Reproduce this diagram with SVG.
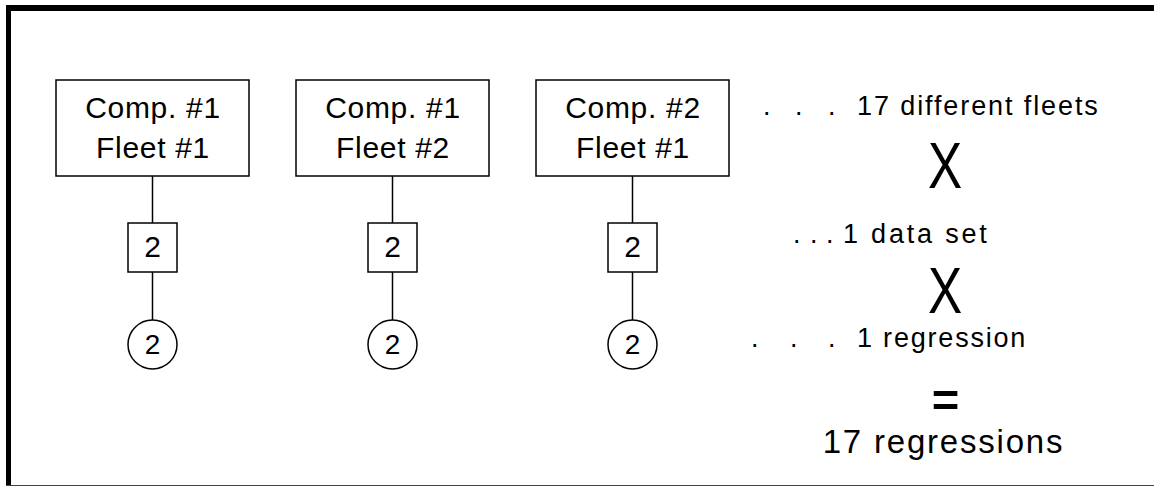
<svg xmlns="http://www.w3.org/2000/svg" width="1154" height="487" viewBox="0 0 1154 487">
<style>
.box{fill:#fff;stroke:#000;stroke-width:1.5}
.ln{stroke:#000;stroke-width:1.5;fill:none}
.t{font-family:"Liberation Sans",Arial,sans-serif;fill:#000;text-anchor:middle}
.lbl{font-size:30px;letter-spacing:0.7px}
.n{font-size:30px}
.c{font-size:28px}
.r{font-size:27px;letter-spacing:1.9px}
</style>
<rect x="0" y="0" width="1154" height="487" fill="#fff"/>
<g id="frame">
<rect x="6" y="5" width="1148" height="6" fill="#000"/>
<rect x="6" y="5" width="5" height="481" fill="#000"/>
<line x1="6" y1="485.5" x2="1154" y2="485.5" stroke="#444" stroke-width="1"/>
</g>
<g id="connectors">
<line class="ln" x1="152.5" y1="176" x2="152.5" y2="223"/>
<line class="ln" x1="152.5" y1="272" x2="152.5" y2="320"/>
<line class="ln" x1="392.5" y1="176" x2="392.5" y2="223"/>
<line class="ln" x1="392.5" y1="272" x2="392.5" y2="320"/>
<line class="ln" x1="632.5" y1="176" x2="632.5" y2="223"/>
<line class="ln" x1="632.5" y1="272" x2="632.5" y2="320"/>
</g>
<g id="fleet1">
<rect class="box" x="56" y="80" width="193" height="96"/>
<text class="t lbl" x="153" y="118">Comp. #1</text>
<text class="t lbl" x="153" y="158">Fleet #1</text>
</g>
<g id="fleet2">
<rect class="box" x="296" y="80" width="193" height="96"/>
<text class="t lbl" x="393" y="118">Comp. #1</text>
<text class="t lbl" x="393" y="158">Fleet #2</text>
</g>
<g id="fleet3">
<rect class="box" x="536" y="80" width="193" height="96"/>
<text class="t lbl" x="633" y="118">Comp. #2</text>
<text class="t lbl" x="633" y="158">Fleet #1</text>
</g>
<g id="data1">
<rect class="box" x="128" y="223" width="49" height="49"/>
<text class="t n" x="152.5" y="257">2</text>
</g>
<g id="data2">
<rect class="box" x="368" y="223" width="49" height="49"/>
<text class="t n" x="392.5" y="257">2</text>
</g>
<g id="data3">
<rect class="box" x="608" y="223" width="49" height="49"/>
<text class="t n" x="632.5" y="257">2</text>
</g>
<g id="reg1">
<circle class="box" cx="152.5" cy="344.5" r="24.5"/>
<text class="t c" x="152.5" y="353.5">2</text>
</g>
<g id="reg2">
<circle class="box" cx="392.5" cy="344.5" r="24.5"/>
<text class="t c" x="392.5" y="353.5">2</text>
</g>
<g id="reg3">
<circle class="box" cx="632.5" cy="344.5" r="24.5"/>
<text class="t c" x="632.5" y="353.5">2</text>
</g>
<g id="summary">
<text class="t r" y="115" style="text-anchor:start"><tspan x="763">.</tspan><tspan x="795">.</tspan><tspan x="828">.</tspan><tspan x="857">17 different fleets</tspan></text>
<text class="t" x="945" y="188" style="font-size:64px" transform="translate(945 0) scale(0.8 1) translate(-945 0)">X</text>
<text class="t r" y="243" style="text-anchor:start;letter-spacing:2.8px"><tspan x="793">.</tspan><tspan x="810">.</tspan><tspan x="826">.</tspan><tspan x="843">1 data set</tspan></text>
<text class="t" x="945" y="313" style="font-size:64px" transform="translate(945 0) scale(0.8 1) translate(-945 0)">X</text>
<text class="t r" y="347" style="text-anchor:start;letter-spacing:1.8px"><tspan x="751">.</tspan><tspan x="790">.</tspan><tspan x="828">.</tspan><tspan x="857">1 regression</tspan></text>
<text class="t" x="945.5" y="416" style="font-size:47px;font-weight:bold">=</text>
<text class="t" x="943.5" y="453" style="font-size:33px;letter-spacing:1.8px">17 regressions</text>
</g>
</svg>
